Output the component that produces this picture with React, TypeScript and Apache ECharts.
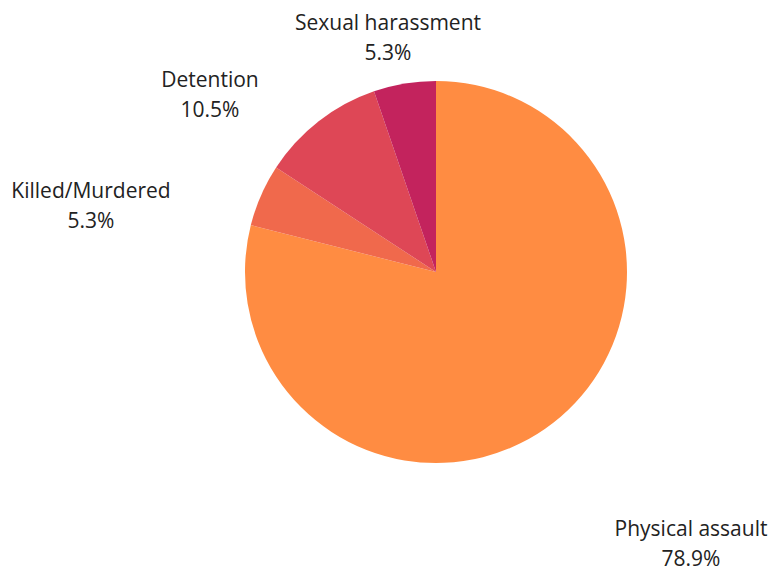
import React, { useEffect, useRef } from "react";
import * as echarts from "echarts";

const categories = ["Physical assault", "Killed/Murdered", "Detention", "Sexual harassment"];
const counts = [15, 1, 2, 1];
const colors = ["#FF8C42", "#F0694C", "#DE4756", "#C3235D"];
// label anchor positions (layout only, pixel centers of label blocks)
const labelAnchors: [number, number][] = [
  [691, 543],
  [91, 205],
  [210, 94],
  [388, 37],
];

export default function App() {
  const ref = useRef<HTMLDivElement>(null);
  useEffect(() => {
    if (!ref.current) return;
    const chart = echarts.init(ref.current, undefined, { renderer: "svg" });
    chart.setOption({
      animation: false,
      backgroundColor: "#ffffff",
      series: [
        {
          type: "pie",
          center: [436, 272],
          radius: 191,
          startAngle: 90,
          clockwise: true,
          percentPrecision: 1,
          avoidLabelOverlap: false,
          data: categories.map((name, i) => ({
            name,
            value: counts[i],
            itemStyle: { color: colors[i] },
          })),
          itemStyle: { borderWidth: 0 },
          label: {
            show: true,
            position: "outside",
            formatter: "{b}\n{d}%",
            fontFamily: "Open Sans",
            fontSize: 21,
            lineHeight: 30,
            color: "#222222",
            align: "center",
          },
          labelLine: { show: false },
          labelLayout: (params: any) => {
            const p = labelAnchors[params.dataIndex];
            return { x: p[0], y: p[1], align: "center", verticalAlign: "middle" };
          },
          emphasis: { disabled: true },
        },
      ],
    });
    return () => chart.dispose();
  }, []);
  return (
    <div
      ref={ref}
      style={{ position: "fixed", left: 0, top: 0, width: 774, height: 574 }}
    />
  );
}
